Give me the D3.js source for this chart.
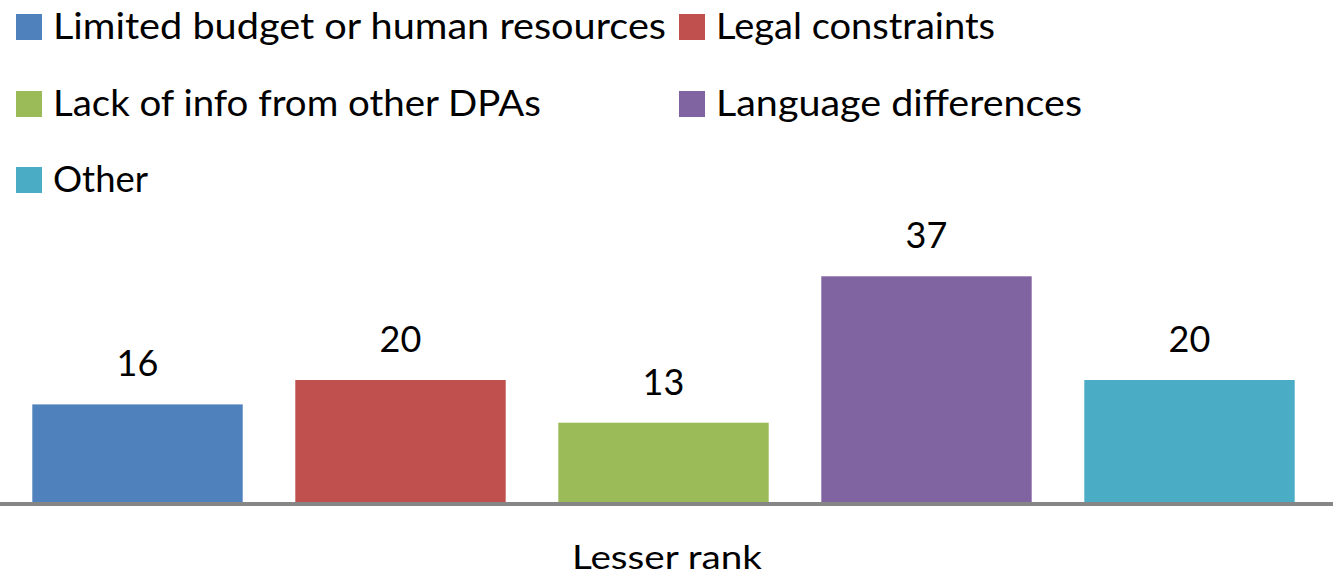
<!DOCTYPE html>
<html>
<head>
<meta charset="utf-8">
<script src="https://cdn.jsdelivr.net/npm/d3@7"></script>
<style>
  html, body { margin: 0; padding: 0; background: #fff; }
  svg { display: block; font-family: Lato, "Open Sans", sans-serif; }
</style>
</head>
<body>
<div id="chart"></div>
<script>
// Dados do gráfico
const categories = ["Limited budget or human resources", "Legal constraints", "Lack of info from other DPAs", "Language differences", "Other"];
const values = [16, 20, 13, 37, 20];
const colors = ["#4F81BD", "#C0504D", "#9BBB59", "#8064A2", "#4BACC6"];
const axisLabel = "Lesser rank";

const width = 1333;
const height = 577;

const svg = d3.select("#chart").append("svg")
    .attr("width", width)
    .attr("height", height)
    .attr("viewBox", [0, 0, width, height]);

// Escalas
const x = d3.scaleBand()
    .domain(categories)
    .range([6, 1321])
    .paddingInner(0.2)
    .paddingOuter(0.1);

const y = d3.scaleLinear()
    .domain([0, 40])
    .range([502, 258]);

// Barras
svg.append("g")
    .selectAll("rect")
    .data(categories)
    .join("rect")
    .attr("x", d => x(d))
    .attr("y", (d, i) => y(values[i]))
    .attr("width", x.bandwidth())
    .attr("height", (d, i) => y(0) - y(values[i]))
    .attr("fill", (d, i) => colors[i]);

// Rótulos de valores
svg.append("g")
    .selectAll("text")
    .data(categories)
    .join("text")
    .attr("x", d => x(d) + x.bandwidth() / 2)
    .attr("y", (d, i) => y(values[i]) - 28)
    .attr("text-anchor", "middle")
    .attr("font-size", 36)
    .attr("fill", "#000")
    .text((d, i) => values[i]);

// Eixo x (linha)
svg.append("line")
    .attr("x1", 0)
    .attr("x2", width)
    .attr("y1", y(0) + 2)
    .attr("y2", y(0) + 2)
    .attr("stroke", "#868686")
    .attr("stroke-width", 4);

svg.append("text")
    .attr("x", 667)
    .attr("y", 569)
    .attr("text-anchor", "middle")
    .attr("font-size", 33)
    .attr("fill", "#000")
    .text(axisLabel)
    .attr("textLength", 190)
    .attr("lengthAdjust", "spacingAndGlyphs");

// Legenda: duas colunas, três linhas
const legendCols = [16, 679];
const legendRows = [40, 117, 193];
const legendWidths = [613, 279, 488, 366, 95];

const legend = svg.append("g")
    .selectAll("g")
    .data(categories)
    .join("g")
    .attr("transform", (d, i) => `translate(${legendCols[i % 2]},${legendRows[Math.floor(i / 2)]})`);

legend.append("rect")
    .attr("x", 0)
    .attr("y", -26)
    .attr("width", 26)
    .attr("height", 26)
    .attr("fill", (d, i) => colors[i]);

legend.append("text")
    .attr("x", 37)
    .attr("y", -1)
    .attr("font-size", 36)
    .attr("fill", "#000")
    .text(d => d)
    .attr("textLength", (d, i) => legendWidths[i])
    .attr("lengthAdjust", "spacingAndGlyphs");
</script>
</body>
</html>
